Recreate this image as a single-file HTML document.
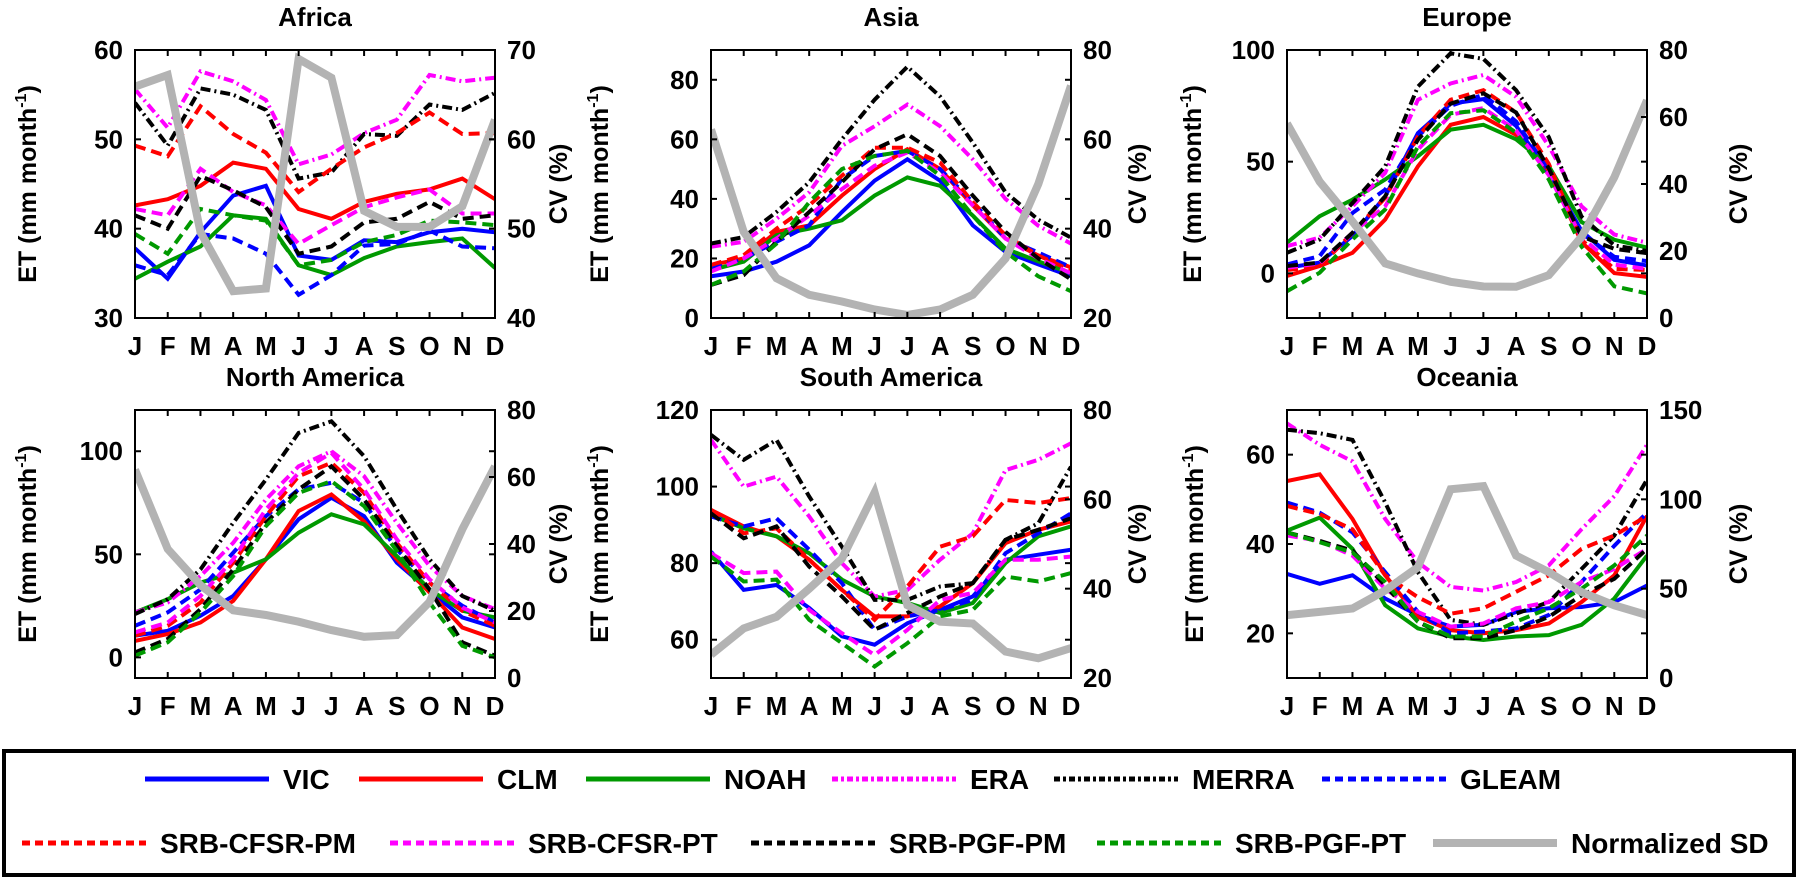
<!DOCTYPE html>
<html><head><meta charset="utf-8">
<style>
html,body{margin:0;padding:0;background:#fff;}
svg{display:block;font-family:"Liberation Sans",Arial,sans-serif;font-weight:bold;}
</style></head>
<body>
<svg id="fig" width="1800" height="882" viewBox="0 0 1800 882" xmlns="http://www.w3.org/2000/svg"></svg>
<script>
const months = ['J','F','M','A','M','J','J','A','S','O','N','D'];
const seriesNames = ['VIC','CLM','NOAH','ERA','MERRA','GLEAM','SRB-CFSR-PM','SRB-CFSR-PT','SRB-PGF-PM','SRB-PGF-PT'];
const regionNames = ['Africa','Asia','Europe','North America','South America','Oceania'];

// ET values [VIC, CLM, NOAH, ERA, MERRA, GLEAM, SRB-CFSR-PM, SRB-CFSR-PT, SRB-PGF-PM, SRB-PGF-PT]
const etAfrica = [
 [37.8,34.4,39.6,43.7,44.8,37.0,36.5,38.7,38.5,39.6,40.0,39.6],
 [42.6,43.3,44.8,47.4,46.7,42.2,41.1,43.0,43.9,44.4,45.6,43.3],
 [34.4,36.3,38.0,41.5,41.1,35.9,34.8,36.7,38.0,38.5,38.9,35.6],
 [55.6,51.3,57.6,56.5,54.4,47.2,48.3,50.7,52.2,57.2,56.5,56.9],
 [54.1,49.3,55.7,55.0,53.3,45.6,46.3,50.6,50.4,53.9,53.3,55.2],
 [35.9,34.8,39.4,38.9,37.2,32.6,34.8,38.1,38.3,39.8,38.0,37.8],
 [49.3,48.1,53.7,50.6,48.5,44.1,46.7,49.1,50.7,53.0,50.6,50.7],
 [42.2,41.5,46.7,44.1,42.6,38.3,40.4,42.4,43.5,44.4,41.7,41.7],
 [41.5,40.0,45.9,44.3,42.4,37.2,38.0,40.7,41.1,43.0,41.1,41.5],
 [39.4,37.2,42.2,41.5,40.9,35.9,36.5,38.5,39.3,40.9,40.7,40.4]
];
const cvAfrica = [65.9,67.2,49.6,43.0,43.3,69.0,66.9,52.0,50.2,50.2,52.5,62.2];

const etAsia = [
 [14.0,15.6,18.9,24.4,35.6,46.1,53.3,46.1,31.1,22.2,18.0,14.0],
 [17.8,20.0,28.9,31.1,41.1,50.0,56.7,50.0,37.8,26.7,21.0,17.0],
 [16.1,18.9,27.8,30.0,32.8,41.1,47.2,44.4,34.4,23.3,19.0,15.0],
 [23.9,25.6,33.3,42.2,57.8,64.4,71.7,64.4,53.3,40.0,31.0,25.0],
 [25.0,27.2,35.6,45.6,60.0,73.3,84.4,74.4,58.9,42.2,33.0,27.0],
 [17.2,20.0,25.6,31.1,46.7,54.4,56.1,50.0,38.9,26.7,22.0,17.0],
 [17.8,21.1,30.0,37.8,47.8,57.2,57.2,52.2,38.9,27.8,21.0,16.0],
 [15.6,20.0,26.7,34.4,43.3,51.1,55.6,48.9,37.8,26.7,20.0,15.0],
 [11.1,14.4,25.6,35.6,45.6,56.7,61.7,54.4,41.1,28.9,20.0,13.0],
 [11.1,15.6,25.0,38.9,50.0,54.4,56.1,47.8,34.4,22.2,14.0,9.0]
];
const cvAsia = [62.2,39.3,28.9,25.2,23.7,21.9,20.7,21.9,25.2,33.3,50.0,72.0];

const etEurope = [
 [2.5,4.8,16.7,34.5,62.8,76.0,78.0,66.0,45.0,19.0,6.0,3.5],
 [-1.2,3.3,9.2,24.1,47.9,66.5,70.0,62.0,46.0,14.0,0.1,-1.6],
 [13.7,25.6,33.0,42.0,52.4,64.3,66.5,60.0,48.0,23.0,15.0,11.5],
 [12.2,16.0,30.0,45.0,77.7,85.0,88.8,79.0,57.0,30.0,17.4,13.7],
 [9.2,15.2,31.5,47.9,83.6,98.5,96.0,82.0,61.0,25.4,12.5,10.0],
 [4.0,7.7,27.0,37.5,61.3,75.0,80.0,68.0,46.0,18.0,7.4,5.5],
 [1.5,3.0,18.2,33.8,61.3,77.7,82.0,72.0,49.0,15.0,2.0,1.5],
 [2.5,4.5,18.2,30.0,55.4,71.0,74.0,64.0,44.0,16.0,3.9,2.0],
 [3.3,4.8,18.2,34.5,59.8,76.0,80.6,72.0,47.0,16.5,11.0,9.0],
 [-8.0,0.3,15.2,28.6,56.8,71.7,73.0,63.0,42.0,12.0,-5.8,-9.0]
];
const cvEurope = [58.1,40.7,28.8,16.3,13.3,10.8,9.4,9.3,12.8,24.2,42.0,65.0];

const etNorthAmerica = [
 [10.5,12.9,20.2,29.8,47.6,67.0,77.4,68.5,46.0,32.3,19.4,14.5],
 [8.0,11.3,16.9,27.4,47.6,71.0,79.0,66.0,47.6,31.5,14.5,8.9],
 [21.8,28.2,36.3,41.1,47.6,60.5,69.4,64.5,49.2,33.0,22.6,19.4],
 [21.8,26.6,39.5,55.6,76.6,92.7,100.0,87.9,65.3,44.4,29.8,23.4],
 [21.0,28.2,42.7,65.3,86.3,108.9,114.5,97.6,71.8,47.6,29.8,22.6],
 [15.3,21.8,33.0,50.8,68.5,81.5,84.7,75.0,52.4,36.3,25.0,16.9],
 [10.5,15.3,26.6,46.0,68.5,87.9,94.4,79.8,55.6,36.3,22.6,15.3],
 [12.1,16.9,29.8,47.6,71.8,89.5,99.2,81.5,57.3,37.9,24.2,16.9],
 [2.4,8.9,23.4,42.7,65.3,81.5,92.7,76.6,54.0,33.0,7.3,0.8],
 [0.8,7.3,21.8,39.5,63.7,79.8,85.5,73.4,51.6,26.6,5.6,0.0]
];
const cvNorthAmerica = [62.2,38.5,27.7,20.2,18.8,16.8,14.3,12.3,12.8,22.7,44.4,63.2];

const etSouthAmerica = [
 [83.0,73.0,74.3,68.3,60.9,58.7,64.3,67.8,71.3,80.9,82.2,83.5],
 [93.9,89.6,87.0,80.9,73.0,66.1,66.1,68.7,74.8,85.2,88.7,90.9],
 [92.6,89.1,87.0,82.6,75.7,71.3,69.6,67.0,69.6,80.0,87.0,89.6],
 [112.2,100.0,102.6,92.2,80.0,71.3,73.0,80.9,87.8,104.3,107.0,111.3],
 [113.5,107.0,112.2,97.4,84.3,70.4,70.4,73.9,74.8,86.1,90.4,105.2],
 [92.2,89.6,91.7,83.5,74.8,62.6,66.1,67.8,70.4,82.6,87.8,93.0],
 [93.9,87.8,89.1,80.9,73.0,65.2,73.9,84.3,87.0,96.5,95.7,97.0],
 [82.6,77.4,77.8,67.8,61.7,56.0,62.6,70.4,72.2,80.9,80.9,81.7],
 [93.0,86.5,89.6,79.1,71.3,62.6,67.0,71.3,74.8,86.1,88.7,91.7],
 [81.7,75.2,75.7,65.2,59.1,53.0,59.1,66.1,67.8,76.5,75.2,77.4]
];
const cvSouthAmerica = [25.2,31.1,33.7,40.0,46.7,61.5,36.3,32.6,32.2,25.9,24.4,26.7];

const etOceania = [
 [33.3,31.1,33.0,27.8,24.1,21.5,21.9,24.8,25.6,25.9,27.0,30.7],
 [54.1,55.6,45.6,33.0,23.7,20.7,20.0,20.7,22.2,27.0,33.0,46.3],
 [43.0,45.9,38.9,26.3,21.1,19.3,18.5,19.3,19.6,21.9,27.8,37.4],
 [67.0,62.2,58.5,45.6,35.9,30.4,29.6,31.5,35.2,43.3,50.7,62.2],
 [65.6,64.8,63.3,49.3,33.7,23.0,21.9,24.4,27.0,34.4,41.9,54.4],
 [49.3,47.0,42.6,33.7,24.8,20.0,20.4,21.1,24.1,31.5,39.6,47.0],
 [48.5,46.7,43.3,33.0,28.1,24.4,25.6,29.3,33.0,38.9,41.9,46.3],
 [41.9,40.7,37.4,30.0,24.8,21.5,22.2,25.6,27.0,31.5,34.4,38.9],
 [42.6,40.7,38.5,30.7,22.6,18.9,18.9,20.7,23.7,28.5,32.2,38.9],
 [42.6,40.4,38.1,31.5,22.6,19.3,19.3,22.6,25.6,30.0,35.2,41.9]
];
const cvOceania = [35.2,37.0,38.9,49.0,62.0,105.6,107.4,68.5,59.3,48.1,40.7,35.2];

const etTicks = [[30,40,50,60],[0,20,40,60,80],[0,50,100],[0,50,100],[60,80,100,120],[20,40,60]];
const cvTicks = [[40,50,60,70],[20,40,60,80],[0,20,40,60,80],[0,20,40,60,80],[20,40,60,80],[0,50,100,150]];

const etData = [etAfrica, etAsia, etEurope, etNorthAmerica, etSouthAmerica, etOceania];
const cvData = [cvAfrica, cvAsia, cvEurope, cvNorthAmerica, cvSouthAmerica, cvOceania];

// ----- axis / layout configuration -----
const etRange = [[30,60],[0,90],[-20,100],[-10,120],[50,120],[10,70]];
const cvRange = [[40,70],[20,80],[0,80],[0,80],[20,80],[0,150]];
const panelX = [135,711,1287,135,711,1287];
const panelY = [50,50,50,410,410,410];
const PW = 360, PH = 268;
const leftLabelOff = [108,112,95,108,112,93];
const rightLabelOff = [63,66,91,63,66,91];
const colors = ['#0000ff','#ff0000','#009900','#ff00ff','#000000','#0000ff','#ff0000','#ff00ff','#000000','#009900'];
const dashes = ['','','','10 4 2 4','10 4 2 4','11 6','11 6','11 6','11 6','11 6'];

const NS = 'http://www.w3.org/2000/svg';
const svg = document.getElementById('fig');
function mk(tag, attrs, parent){
  const e = document.createElementNS(NS, tag);
  for (const k in attrs) e.setAttribute(k, attrs[k]);
  (parent||svg).appendChild(e);
  return e;
}
function slug(s){return s.toLowerCase().replace(/[^a-z0-9]+/g,'-');}

for (let p = 0; p < 6; p++) {
  const x0 = panelX[p], y0 = panelY[p];
  const rs = slug(regionNames[p]);
  const g = mk('g', {});
  
  
  const xs = i => x0 + i * PW / 11;
  const ys = v => y0 + PH - (v - etRange[p][0]) / (etRange[p][1] - etRange[p][0]) * PH;
  const yc = v => y0 + PH - (v - cvRange[p][0]) / (cvRange[p][1] - cvRange[p][0]) * PH;

  const clip = mk('clipPath', {id: 'clip' + p}, g);
  mk('rect', {x: x0, y: y0, width: PW, height: PH}, clip);

  const t = mk('text', {x: x0 + PW/2, y: y0 - 24, 'text-anchor': 'middle', 'font-size': 26}, g);
  t.textContent = regionNames[p];
  
  

  const lines = mk('g', {'clip-path': 'url(#clip' + p + ')'}, g);
  for (let s = 0; s < seriesNames.length; s++) {
    const vals = etData[p][s];
    const pts = vals.map((v, i) => xs(i).toFixed(1) + ',' + ys(v).toFixed(1)).join(' ');
    const pl = mk('polyline', {points: pts, fill: 'none', stroke: colors[s], 'stroke-width': 4, 'stroke-linejoin': 'miter'}, lines);
    if (dashes[s]) pl.setAttribute('stroke-dasharray', dashes[s]);
    
    
  }
  const sdPts = cvData[p].map((v, i) => xs(i).toFixed(1) + ',' + yc(v).toFixed(1)).join(' ');
  const sd = mk('polyline', {points: sdPts, fill: 'none', stroke: '#b3b3b3', 'stroke-width': 8}, lines);
  
  

  const fr = mk('rect', {x: x0, y: y0, width: PW, height: PH, fill: 'none', stroke: '#000', 'stroke-width': 2}, g);
  
  

  for (let i = 0; i < 12; i++) {
    const x = xs(i);
    mk('line', {x1: x, y1: y0 + PH, x2: x, y2: y0 + PH - 6, stroke: '#000', 'stroke-width': 2}, g);
    mk('line', {x1: x, y1: y0, x2: x, y2: y0 + 6, stroke: '#000', 'stroke-width': 2}, g);
    const ml = mk('text', {x: x, y: y0 + PH + 37, 'text-anchor': 'middle', 'font-size': 26}, g);
    ml.textContent = months[i];
    
    
  }
  etTicks[p].forEach(v => {
    const y = ys(v);
    mk('line', {x1: x0, y1: y, x2: x0 + 6, y2: y, stroke: '#000', 'stroke-width': 2}, g);
    mk('line', {x1: x0 + PW, y1: y, x2: x0 + PW - 6, y2: y, stroke: '#000', 'stroke-width': 2}, g);
    const tl = mk('text', {x: x0 - 12, y: y + 9, 'text-anchor': 'end', 'font-size': 26}, g);
    tl.textContent = v;
    
    
  });
  cvTicks[p].forEach(v => {
    const y = yc(v);
    mk('line', {x1: x0 + PW, y1: y, x2: x0 + PW - 6, y2: y, stroke: '#000', 'stroke-width': 2}, g);
    const tl = mk('text', {x: x0 + PW + 12, y: y + 9, 'text-anchor': 'start', 'font-size': 26}, g);
    tl.textContent = v;
    
    
  });
  const cy = y0 + PH/2;
  const lx = x0 - leftLabelOff[p];
  const et = mk('text', {x: lx, y: cy, 'text-anchor': 'middle', 'font-size': 25, transform: 'rotate(-90 ' + lx + ' ' + cy + ')', dy: 9}, g);
  et.appendChild(document.createTextNode('ET (mm month'));
  const sup = mk('tspan', {'font-size': 16, dy: -10}, et);
  sup.textContent = '-1';
  const cl = mk('tspan', {dy: 10}, et);
  cl.textContent = ')';
  
  
  const rx = x0 + PW + rightLabelOff[p];
  const cv = mk('text', {x: rx, y: cy, 'text-anchor': 'middle', 'font-size': 25, transform: 'rotate(-90 ' + rx + ' ' + cy + ')', dy: 9}, g);
  cv.textContent = 'CV (%)';
  
  
}

const lg = mk('g', {});


const lbox = mk('rect', {x: 4, y: 751, width: 1790, height: 124, fill: '#fff', stroke: '#000', 'stroke-width': 4}, lg);


const legendNames = seriesNames.concat(['Normalized SD']);
const legColors = colors.concat(['#b3b3b3']);
const legDash = ['', '', '', '6 3 3 3', '6 3 3 3', '8 5', '8 5', '8 5', '8 5', '8 5', ''];
const legLineX = [145,359,586,832,1054,1322,22,390,751,1097,1433];
const legRow = [0,0,0,0,0,0,1,1,1,1,1];
for (let i = 0; i < legendNames.length; i++) {
  const y = legRow[i] ? 843 : 779;
  const e = mk('g', {}, lg);
  
  
  const ln = mk('line', {x1: legLineX[i], y1: y, x2: legLineX[i] + 124, y2: y, stroke: legColors[i], 'stroke-width': i === 10 ? 8 : 5}, e);
  if (legDash[i]) ln.setAttribute('stroke-dasharray', legDash[i]);
  const tx = mk('text', {x: legLineX[i] + 138, y: y + 10, 'font-size': 28}, e);
  tx.textContent = legendNames[i];
}
</script>
</body></html>
